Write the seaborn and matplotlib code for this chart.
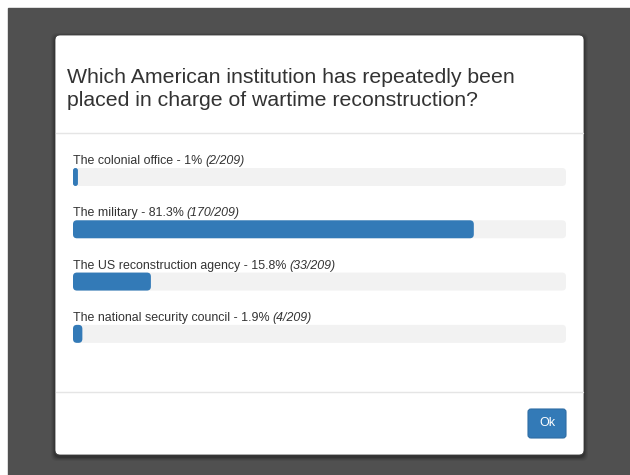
import matplotlib
matplotlib.use("Agg")
import matplotlib.pyplot as plt
from matplotlib.patches import FancyBboxPatch, Rectangle
import pandas as pd
import seaborn as sns

# poll data
question = ["Which American institution has repeatedly been",
            "placed in charge of wartime reconstruction?"]
options = ["The colonial office", "The military",
           "The US reconstruction agency", "The national security council"]
percents = [1, 81.3, 15.8, 1.9]
votes = [2, 170, 33, 4]
total_votes = 209
button_label = "Ok"

sns.set_theme(style="white")
plt.rcParams['font.family'] = ['Liberation Sans', 'DejaVu Sans']

df = pd.DataFrame({"option": options, "percent": percents, "track": [100] * len(options)})

fig = plt.figure(figsize=(6.3, 4.75), dpi=100)
fig.patch.set_facecolor('white')

# background / modal card in pixel coordinates
bg = fig.add_axes([0, 0, 1, 1])
bg.set_xlim(0, 630)
bg.set_ylim(475, 0)
bg.axis('off')
bg.add_patch(Rectangle((8, 8), 622, 467, color='#505050', zorder=0))
for grow, a in [(4, 0.05), (3, 0.07), (2, 0.1), (1, 0.15)]:
    bg.add_patch(FancyBboxPatch((55 - grow, 35 - grow + 2), 529 + 2 * grow, 420 + 2 * grow,
                                boxstyle="round,pad=0,rounding_size=6",
                                fc='black', ec='none', alpha=a, zorder=1))
bg.add_patch(FancyBboxPatch((55, 35), 529, 420, boxstyle="round,pad=0,rounding_size=5",
                            fc='white', ec='#3c3c3c', lw=0.6, zorder=2))
bg.plot([55.5, 583], [133, 133], color='#e5e5e5', lw=1, zorder=3)
bg.plot([55.5, 583], [392, 392], color='#e5e5e5', lw=1, zorder=3)

for i, line in enumerate(question):
    bg.text(67, 83 + i * 23.5, line, fontsize=15.3, color='#333333', va='baseline', zorder=4)

bg.add_patch(FancyBboxPatch((528, 409), 38, 29, boxstyle="round,pad=0,rounding_size=3",
                            fc='#337ab7', ec='#2e6da4', lw=0.8, zorder=3))
bg.text(547, 423.5, button_label, fontsize=9, color='white', ha='center', va='center', zorder=4)

# progress bars
ax = fig.add_axes([73 / 630, 1 - 360 / 475, 493 / 630, 209.15 / 475])
ax.patch.set_alpha(0)
bw = 0.344
sns.barplot(data=df, x="track", y="option", color='#f2f2f2', saturation=1, width=bw, ax=ax)
sns.barplot(data=df, x="percent", y="option", color='#337ab7', saturation=1, width=bw, ax=ax)
ax.set_xlim(0, 100)
ax.set_ylim(3.5, -0.5)
ax.axis('off')

# rounded ends like bootstrap progress bars
asp = (1 / 52.3) / (1 / 4.93)
for p in list(ax.patches):
    x, y, w, h = p.get_x(), p.get_y(), p.get_width(), p.get_height()
    fc = p.get_facecolor()
    p.remove()
    r = min(0.8, w / 2)
    ax.add_patch(FancyBboxPatch((x, y), w, h, boxstyle=f"round,pad=0,rounding_size={r}",
                                mutation_aspect=asp, fc=fc, ec='none'))

for i, (opt, pc, v) in enumerate(zip(options, percents, votes)):
    pct = f"{pc:g}%"
    t = ax.annotate(f"{opt} - {pct}", xy=(0, i - bw / 2), xycoords='data',
                    xytext=(0, 4), textcoords='offset pixels',
                    fontsize=8.9, color='#333333', va='baseline', annotation_clip=False)
    ax.annotate(f"({v}/{total_votes})", xy=(1, 0), xycoords=t,
                xytext=(3, 0), textcoords='offset pixels',
                fontsize=8.9, color='#333333', style='italic', va='bottom')

fig.savefig('out.png', dpi=100)
